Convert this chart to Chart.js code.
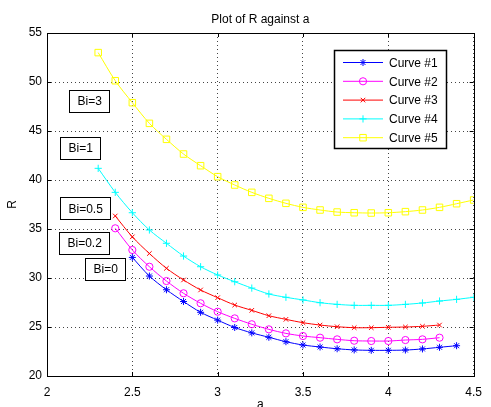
<!DOCTYPE html>
<html>
<head>
<meta charset="utf-8">
<script src="https://cdn.jsdelivr.net/npm/chart.js@4/dist/chart.umd.min.js"></script>
<style>
  html, body { margin: 0; padding: 0; background: #fff; }
  #wrap { width: 491px; height: 407px; position: relative; }
</style>
</head>
<body>
<div id="wrap"><canvas id="c"></canvas></div>
<script>
// a values shared by all curves (each curve starts at its own index)
const aGrid = [2.3, 2.4, 2.5, 2.6, 2.7, 2.8, 2.9, 3.0, 3.1, 3.2, 3.3, 3.4,
               3.5, 3.6, 3.7, 3.8, 3.9, 4.0, 4.1, 4.2, 4.3, 4.4, 4.5];

const curve1 = [32.1, 30.2, 28.8, 27.6, 26.5, 25.7, 24.95, 24.4, 23.95, 23.5,
                23.16, 22.96, 22.78, 22.66, 22.62, 22.62, 22.65, 22.76, 22.93, 23.09];   // 2.5 .. 4.4
const curve2 = [35.07, 32.86, 31.15, 29.69, 28.44, 27.42, 26.56, 25.88, 25.28, 24.76,
                24.35, 24.08, 23.91, 23.74, 23.6, 23.57, 23.57, 23.67, 23.74, 23.91];  // 2.4 .. 4.3
const curve3 = [36.33, 34.2, 32.5, 30.99, 29.8, 28.78, 27.99, 27.24, 26.7, 26.15,
                25.78, 25.44, 25.2, 25.03, 24.93, 24.93, 24.97, 25.0, 25.07, 25.2];    // 2.4 .. 4.3
const curve4 = [41.19, 38.74, 36.66, 34.9, 33.54, 32.24, 31.15, 30.31, 29.62, 28.97,
                28.37, 28.03, 27.76, 27.48, 27.31, 27.21, 27.21, 27.21, 27.31, 27.45,
                27.65, 27.82, 28.03];                                                  // 2.3 .. 4.5
const curve5 = [53.0, 50.13, 47.89, 45.78, 44.15, 42.65, 41.46, 40.34, 39.49, 38.74,
                38.13, 37.62, 37.21, 36.94, 36.73, 36.66, 36.63, 36.66, 36.77, 36.94,
                37.21, 37.58, 37.96];                                                  // 2.3 .. 4.5

const curveNames = ['Curve #1', 'Curve #2', 'Curve #3', 'Curve #4', 'Curve #5'];
const curveStart = [2, 1, 1, 0, 0];
const curveValues = [curve1, curve2, curve3, curve4, curve5];

const xTicks = [2, 2.5, 3, 3.5, 4, 4.5];
const yTicks = [20, 25, 30, 35, 40, 45, 50, 55];

const biLabels = ['Bi=3', 'Bi=1', 'Bi=0.5', 'Bi=0.2', 'Bi=0'];
const biX = [2.126, 2.079, 2.079, 2.069, 2.222];
const biY = [48.08, 43.27, 37.11, 33.59, 30.92];

const colors = ['#0000ff', '#ff00ff', '#ff0000', '#00ffff', '#ffff00'];
const markers = ['star', 'circle', 'crossRot', 'cross', 'rect'];
const radii = [3.5, 3.6, 3.2, 3.6, 4.6];
const FONT = '"Liberation Sans", Arial, Helvetica, sans-serif';

const datasets = curveValues.map((vals, i) => ({
  label: curveNames[i],
  data: vals.map((v, k) => ({ x: aGrid[curveStart[i] + k], y: v })),
  borderColor: colors[i],
  backgroundColor: 'rgba(0,0,0,0)',
  pointBorderColor: colors[i],
  pointBackgroundColor: 'rgba(0,0,0,0)',
  pointStyle: markers[i],
  pointRadius: radii[i],
  pointBorderWidth: 1,
  borderWidth: 1,
  tension: 0.3,
  fill: false
}));

const matlabFrame = {
  id: 'matlabFrame',
  afterDraw(chart) {
    const ctx = chart.ctx;
    const a = chart.chartArea;
    const xs = chart.scales.x, ys = chart.scales.y;
    ctx.save();
    // box
    ctx.strokeStyle = '#000';
    ctx.lineWidth = 1;
    ctx.strokeRect(Math.round(a.left) + 0.5, Math.round(a.top) + 0.5,
                   Math.round(a.right - a.left), Math.round(a.bottom - a.top));
    // inward ticks
    ctx.beginPath();
    xTicks.forEach(t => {
      const px = Math.round(xs.getPixelForValue(t)) + 0.5;
      ctx.moveTo(px, a.bottom); ctx.lineTo(px, a.bottom - 4);
      ctx.moveTo(px, a.top); ctx.lineTo(px, a.top + 4);
    });
    yTicks.forEach(t => {
      const py = Math.round(ys.getPixelForValue(t)) + 0.5;
      ctx.moveTo(a.left, py); ctx.lineTo(a.left + 4, py);
      ctx.moveTo(a.right, py); ctx.lineTo(a.right - 4, py);
    });
    ctx.stroke();

    // title and axis labels
    ctx.fillStyle = '#000';
    ctx.font = '12px ' + FONT;
    ctx.textAlign = 'center';
    ctx.textBaseline = 'middle';
    ctx.fillText('Plot of R against a', (a.left + a.right) / 2, 20);
    ctx.fillText('a', (a.left + a.right) / 2, 405);
    ctx.save();
    ctx.translate(13, (a.top + a.bottom) / 2);
    ctx.rotate(-Math.PI / 2);
    ctx.fillText('R', 0, 0);
    ctx.restore();

    // Bi annotations
    ctx.font = '12px ' + FONT;
    biLabels.forEach((txt, i) => {
      const left = Math.round(xs.getPixelForValue(biX[i])) + 0.5;
      const cy = ys.getPixelForValue(biY[i]);
      const w = Math.round(ctx.measureText(txt).width + 16);
      const h = 22;
      const top = Math.round(cy - h / 2) + 0.5;
      ctx.fillStyle = '#fff';
      ctx.fillRect(left, top, w, h);
      ctx.strokeStyle = '#000';
      ctx.strokeRect(left, top, w, h);
      ctx.fillStyle = '#000';
      ctx.textAlign = 'left';
      ctx.fillText(txt, left + 8, cy + 1);
    });

    // legend
    const lx = 334.5, ly = 50.5, lw = 112, lh = 98;
    ctx.fillStyle = '#fff';
    ctx.fillRect(lx, ly, lw, lh);
    ctx.strokeStyle = '#000';
    ctx.lineWidth = 1.5;
    ctx.strokeRect(lx, ly, lw, lh);
    chart.data.datasets.forEach((ds, i) => {
      const y = 62.5 + i * 18.8;
      ctx.strokeStyle = ds.borderColor;
      ctx.lineWidth = 1;
      ctx.beginPath();
      ctx.moveTo(343, y); ctx.lineTo(383, y);
      ctx.stroke();
      ctx.fillStyle = 'rgba(0,0,0,0)';
      Chart.helpers.drawPoint(ctx, {
        pointStyle: ds.pointStyle, radius: ds.pointRadius, rotation: 0, borderWidth: 1
      }, 363, y);
      ctx.fillStyle = '#000';
      ctx.textAlign = 'left';
      ctx.fillText(ds.label, 389, y + 1);
    });
    ctx.restore();
  }
};

new Chart(document.getElementById('c'), {
  type: 'line',
  data: { datasets },
  options: {
    responsive: true,
    maintainAspectRatio: false,
    animation: false,
    layout: { padding: { top: 33, right: 9, bottom: 0, left: 0 } },
    plugins: { legend: { display: false }, tooltip: { enabled: false } },
    scales: {
      x: {
        type: 'linear', min: 2, max: 4.5,
        afterFit(s) { s.height = 31; },
        afterBuildTicks(s) { s.ticks = xTicks.map(v => ({ value: v })); },
        ticks: { color: '#000', padding: 9, maxRotation: 0, font: { family: FONT, size: 12 },
                 callback: v => String(v) },
        grid: { color: '#444', drawTicks: false },
        border: { display: false, dash: [1, 3] }
      },
      y: {
        type: 'linear', min: 20, max: 55,
        afterFit(s) { s.width = 47; },
        afterBuildTicks(s) { s.ticks = yTicks.map(v => ({ value: v })); },
        ticks: { color: '#000', padding: 5, font: { family: FONT, size: 12 },
                 callback: v => String(v) },
        grid: { color: '#444', drawTicks: false },
        border: { display: false, dash: [1, 3] }
      }
    }
  },
  plugins: [matlabFrame]
});
</script>
</body>
</html>
